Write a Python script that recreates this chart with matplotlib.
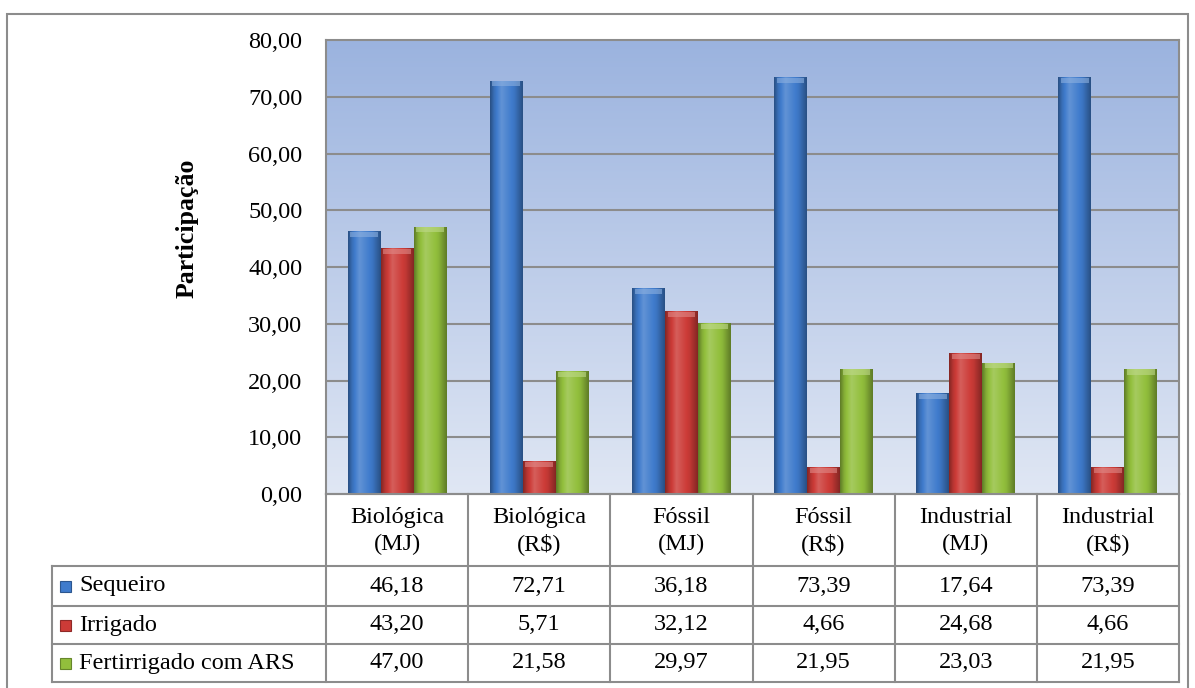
import numpy as np
import matplotlib.pyplot as plt
from matplotlib.patches import Rectangle
from matplotlib.colors import LinearSegmentedColormap, to_rgb

# dados por fonte de energia (participação, %)
categorias = ["Biológica\n(MJ)", "Biológica\n(R$)", "Fóssil\n(MJ)",
              "Fóssil\n(R$)", "Industrial\n(MJ)", "Industrial\n(R$)"]
series = ["Sequeiro", "Irrigado", "Fertirrigado com ARS"]
sequeiro = [46.18, 72.71, 36.18, 73.39, 17.64, 73.39]
irrigado = [43.20, 5.71, 32.12, 4.66, 24.68, 4.66]
fertirrigado = [47.00, 21.58, 29.97, 21.95, 23.03, 21.95]
yticks = [0, 10, 20, 30, 40, 50, 60, 70, 80]

cores = ["#3f7bcc", "#cc3b37", "#92bf3c"]
W, H = 1195, 688
serif = "Liberation Serif"
fs = 17.5


def fmt(v):
    return ("%.2f" % v).replace(".", ",")


def shade(base):
    # degradê horizontal para dar aspecto de cilindro às barras
    c = np.array(to_rgb(base))
    t = np.linspace(0, 1, 64)
    k = np.interp(t, [0, 0.12, 0.35, 0.75, 1], [-0.35, -0.1, 0.18, -0.05, -0.35])
    rows = []
    for v in k:
        if v >= 0:
            rows.append(c + (1 - c) * v)
        else:
            rows.append(c * (1 + v))
    return np.clip(np.array(rows), 0, 1)[None, :, :]


fig = plt.figure(figsize=(W / 100, H / 100), dpi=100)

# moldura externa
fig.add_artist(Rectangle((7 / W, -0.01), (1188 - 7) / W, 1 - 14 / H + 0.01,
                         transform=fig.transFigure, fill=False,
                         edgecolor="#8c8c8c", linewidth=1.5))

ax = fig.add_axes([326 / W, 1 - 494 / H, (1179 - 326) / W, (494 - 40) / H])
ax.set_xlim(-0.5, 5.5)
ax.set_ylim(0, 80)

fundo = LinearSegmentedColormap.from_list("fundo", ["#e0e7f4", "#9bb3df"])
ax.imshow(np.linspace(0, 1, 256)[:, None], extent=[-0.5, 5.5, 0, 80],
          origin="lower", aspect="auto", cmap=fundo, zorder=0)

for y in yticks[1:-1]:
    ax.axhline(y, color="#8c8c8c", linewidth=1.5, zorder=1)

largura = 0.232
x = np.arange(len(categorias))
for i, (vals, cor) in enumerate(zip([sequeiro, irrigado, fertirrigado], cores)):
    pos = x + (i - 1) * largura
    bars = ax.bar(pos, vals, largura, color=cor, zorder=2, linewidth=0)
    grad = shade(cor)
    for b in bars:
        x0 = b.get_x()
        h = b.get_height()
        ax.imshow(grad, extent=[x0, x0 + largura, 0, h], aspect="auto", zorder=3)
        # tampa superior mais clara
        ax.add_patch(Rectangle((x0 + largura * 0.08, h - 0.9), largura * 0.84, 0.9,
                               color=np.clip(np.array(to_rgb(cor)) * 0.6 + 0.4, 0, 1),
                               alpha=0.6, zorder=4, linewidth=0))
ax.set_xlim(-0.5, 5.5)
ax.set_ylim(0, 80)

ax.set_yticks(yticks)
ax.set_yticklabels([fmt(v) for v in yticks], fontfamily=serif, fontsize=fs)
ax.tick_params(axis="y", length=0, pad=17)
ax.set_xticks([])
for s in ax.spines.values():
    s.set_color("#8c8c8c")
    s.set_linewidth(1.5)

fig.text(187 / W, 1 - 228 / H, "Participação", rotation=90, ha="center", va="center",
         fontfamily=serif, fontweight="bold", fontsize=18.5)

# tabela de dados abaixo do gráfico
col_w = (1179 - 326) / 6
left_x = -0.5 - (326 - 52) / col_w
tab = fig.add_axes([52 / W, 1 - 682 / H, (1179 - 52) / W, (682 - 494) / H])
tab.set_xlim(left_x, 5.5)
tab.set_ylim(188, 0)
tab.axis("off")

linhas_y = [72, 112, 150, 188]
gc = "#8c8c8c"
tab.plot([-0.5, 5.5], [0, 0], color=gc, lw=1.5, clip_on=False)
for yy in linhas_y:
    tab.plot([left_x, 5.5], [yy, yy], color=gc, lw=1.5, clip_on=False)
for xx in np.arange(-0.5, 6.0, 1.0):
    tab.plot([xx, xx], [0, 188], color=gc, lw=1.5, clip_on=False)
tab.plot([left_x, left_x], [72, 188], color=gc, lw=1.5, clip_on=False)

for i, cat in enumerate(categorias):
    tab.text(i, 37, cat, ha="center", va="center", fontfamily=serif, fontsize=fs,
             linespacing=1.35)

row_c = [92, 131, 169]
for r, (nome, vals, cor) in enumerate(zip(series, [sequeiro, irrigado, fertirrigado], cores)):
    yc = row_c[r]
    sq = 11 / col_w
    tab.add_patch(Rectangle((left_x + 8 / col_w, yc - 5.5), sq, 11, facecolor=cor,
                            edgecolor=np.array(to_rgb(cor)) * 0.7, lw=0.8, clip_on=False))
    tab.text(left_x + 27 / col_w, yc, nome, ha="left", va="center",
             fontfamily=serif, fontsize=fs)
    for i, v in enumerate(vals):
        tab.text(i, yc, fmt(v), ha="center", va="center", fontfamily=serif, fontsize=fs)

fig.savefig("out.png", dpi=100)
